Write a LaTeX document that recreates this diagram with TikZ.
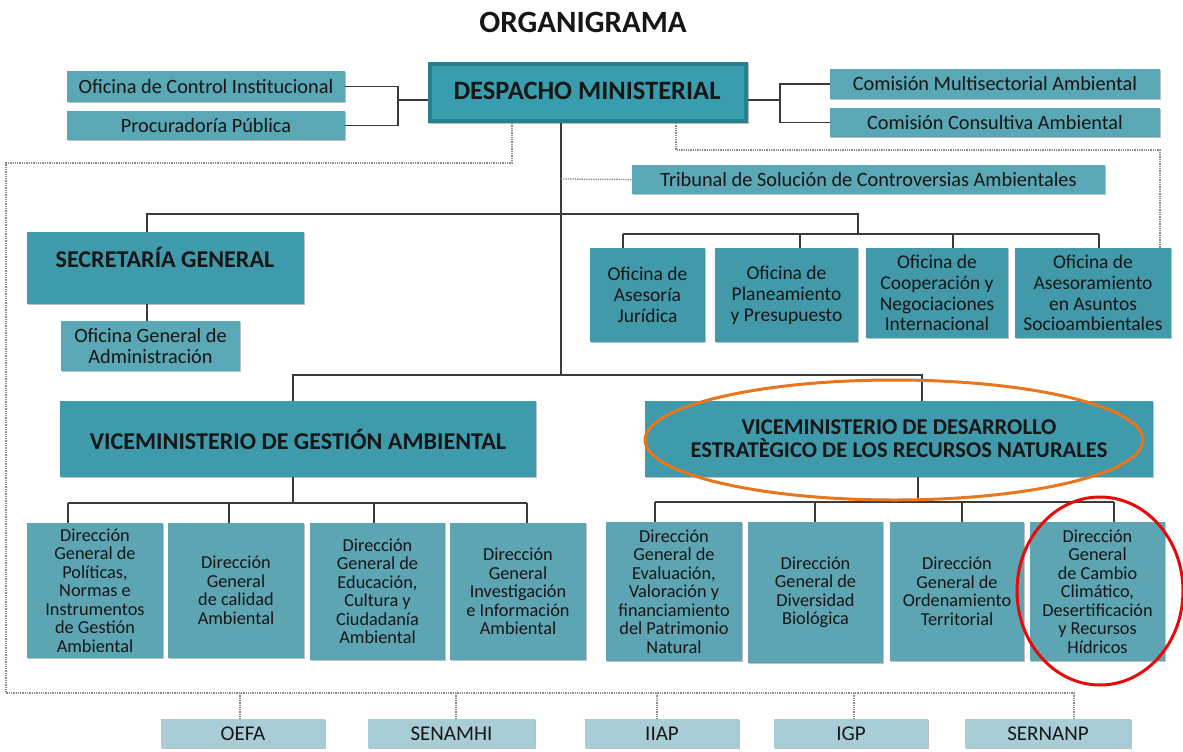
\documentclass[tikz,border=0pt]{standalone}
\usepackage{fontspec}
\setmainfont{Carlito}
\usetikzlibrary{shadows}

\definecolor{inkdark}{HTML}{161616}
\definecolor{linegray}{HTML}{3A3A3A}
\definecolor{dotgray}{HTML}{8A8A8A}
\definecolor{tealsmall}{HTML}{5AA7B5}
\definecolor{tealhead}{HTML}{3F9AAB}
\definecolor{tealoffice}{HTML}{4299AA}
\definecolor{tealdir}{HTML}{5DA5B3}
\definecolor{tealpale}{HTML}{A9CDD7}
\definecolor{despedge}{HTML}{25808F}
\definecolor{despface}{HTML}{3A9DAE}
\definecolor{markorange}{HTML}{E8761C}
\definecolor{markred}{HTML}{E60A0A}

% a box given by its corners (x1,y1)-(x2,y2), in pixel units
\newcommand{\unitbox}[7]{%
  \node[#6, minimum width={#4pt-#2pt}, minimum height={#5pt-#3pt}]
    (#1) at ({(#2+#4)/2},{(#3+#5)/2}) {#7};}

\tikzset{
  x=1pt, y=-1pt,
  base/.style={rectangle, inner sep=0pt, outer sep=0pt, align=center,
    text=inkdark, drop shadow={shadow xshift=1.2pt, shadow yshift=-1.2pt,
    opacity=0.25, fill=black}},
  smallbox/.style={base, fill=tealsmall, font=\fontsize{20.3}{21}\selectfont},
  headbox/.style={base, fill=tealhead, font=\bfseries\fontsize{24.1}{25}\selectfont},
  officebox/.style={base, fill=tealoffice, font=\fontsize{19.5}{20.8}\selectfont},
  dirbox/.style={base, fill=tealdir, font=\fontsize{18.3}{18.5}\selectfont},
  palebox/.style={base, fill=tealpale, font=\fontsize{21}{22}\selectfont},
  despbox/.style={base, fill=despedge},
  conn/.style={draw=linegray, line width=1.8pt},
  dotline/.style={draw=dotgray, line width=1.3pt, densely dotted},
  hiliteline/.style={line width=3pt},
}

\begin{document}
\begin{tikzpicture}
\useasboundingbox[fill=white] (0,0) rectangle (1183,752);

\node[font=\bfseries\fontsize{31}{32}\selectfont, text=inkdark] (title) at (583,22) {ORGANIGRAMA};

% ---- top level ----
\unitbox{despacho}{428}{62}{748}{123}{despbox}{}
\fill[despface] (432,66) rectangle (744,119);
\node[font=\bfseries\fontsize{26.5}{27}\selectfont, text=inkdark] (desptext) at (587,91) {DESPACHO MINISTERIAL};

\unitbox{oci}{67}{71}{345}{102}{smallbox}{Oficina de Control Institucional}
\unitbox{proc}{67}{111}{345}{140}{smallbox}{Procuradoría Pública}
\unitbox{cma}{830}{69}{1160}{99}{smallbox}{Comisión Multisectorial Ambiental}
\unitbox{cca}{830}{108}{1160}{137}{smallbox}{Comisión Consultiva Ambiental}
\unitbox{trib}{632}{165}{1105}{194}{smallbox}{Tribunal de Solución de Controversias Ambientales}

% ---- second level ----
\unitbox{sg}{27}{232}{304}{304}{headbox}{}
\node[font=\bfseries\fontsize{24.1}{25}\selectfont, text=inkdark] (sgtext) at (165,257) {SECRETARÍA GENERAL};
\unitbox{oga}{61}{321}{240}{371}{smallbox}{Oficina General de\\Administración}

\unitbox{oaj}{590}{248}{705}{342}{officebox}{Oficina de\\Asesoría\\Jurídica}
\unitbox{opp}{715}{248}{858}{342}{officebox}{Oficina de\\Planeamiento\\y Presupuesto}
\unitbox{ocn}{866}{248}{1008}{338}{officebox}{Oficina de\\Cooperación y\\Negociaciones\\Internacional}
\unitbox{oaa}{1015}{248}{1171}{338}{officebox}{Oficina de\\Asesoramiento\\en Asuntos\\Socioambientales}

% ---- vice-ministries ----
\unitbox{vga}{60}{401}{536}{477}{headbox}{VICEMINISTERIO DE GESTIÓN AMBIENTAL}
\unitbox{vdr}{645}{401}{1153}{477}{headbox, font=\bfseries\fontsize{22.6}{23}\selectfont}{VICEMINISTERIO DE DESARROLLO\\ESTRATÈGICO DE LOS RECURSOS NATURALES}

% ---- directorates ----
\unitbox{d1}{27}{523}{163}{658}{dirbox}{Dirección\\General de\\Políticas,\\Normas e\\Instrumentos\\de Gestión\\Ambiental}
\unitbox{d2}{168}{523}{304}{658}{dirbox}{Dirección\\General\\de calidad\\Ambiental}
\unitbox{d3}{310}{523}{445}{660}{dirbox}{Dirección\\General de\\Educación,\\Cultura y\\Ciudadanía\\Ambiental}
\unitbox{d4}{450}{523}{586}{660}{dirbox}{Dirección\\General\\Investigación\\e Información\\Ambiental}

\unitbox{d5}{606}{522}{742}{661}{dirbox}{Dirección\\General de\\Evaluación,\\Valoración y\\financiamiento\\del Patrimonio\\Natural}
\unitbox{d6}{748}{522}{883}{663}{dirbox}{Dirección\\General de\\Diversidad\\Biológica}
\unitbox{d7}{890}{522}{1024}{661}{dirbox}{Dirección\\General de\\Ordenamiento\\Territorial}
\unitbox{d8}{1030}{522}{1165}{661}{dirbox}{Dirección\\General\\de Cambio\\Climático,\\Desertificación\\y Recursos\\Hídricos}

% ---- attached agencies ----
\unitbox{oefa}{161}{719}{325}{748}{palebox}{OEFA}
\unitbox{senamhi}{368}{719}{535}{748}{palebox}{SENAMHI}
\unitbox{iiap}{585}{719}{739}{748}{palebox}{IIAP}
\unitbox{igp}{774}{719}{928}{748}{palebox}{IGP}
\unitbox{sernanp}{965}{719}{1131}{748}{palebox}{SERNANP}

% ---- solid connectors ----
\coordinate (lb) at (398,100);
\coordinate (rb) at (780,100);
\draw[conn] (oci.east) -| (lb);
\draw[conn] (proc.east) -| (lb);
\draw[conn] (lb) -- (lb -| despacho.west);
\draw[conn] (cma.west) -| (rb);
\draw[conn] (cca.west) -| (rb);
\draw[conn] (rb) -- (rb -| despacho.east);

\coordinate (trunk) at (561,375);
\draw[conn] (trunk |- despacho.south) -- (trunk);

\coordinate (sgj) at (147,214);
\coordinate (ofj) at (858,214);
\coordinate (ofd) at (858,234);
\draw[conn] (sgj |- sg.north) -- (sgj) -- (ofj) -- (ofd);
\draw[conn] (sgj |- sg.south) -- (sgj |- oga.north);

\coordinate (ob1) at (623,234);
\coordinate (ob2) at (800,234);
\coordinate (ob3) at (953,234);
\coordinate (ob4) at (1099,234);
\draw[conn] (ob1) -- (ob4);
\draw[conn] (ob1) -- (ob1 |- oaj.north);
\draw[conn] (ob2) -- (ob2 |- opp.north);
\draw[conn] (ob3) -- (ob3 |- ocn.north);
\draw[conn] (ob4) -- (ob4 |- oaa.north);

\coordinate (vl) at (293,375);
\coordinate (vr) at (922,375);
\draw[conn] (vl |- vga.north) -- (vl) -- (vr) -- (vr |- vdr.north);

\coordinate (gbar) at (293,503);
\draw[conn] (gbar |- vga.south) -- (gbar);
\coordinate (g1) at (68,503);
\coordinate (g2) at (229,503);
\coordinate (g3) at (374,503);
\coordinate (g4) at (527,503);
\draw[conn] (g1) -- (g4);
\draw[conn] (g1) -- (g1 |- d1.north);
\draw[conn] (g2) -- (g2 |- d2.north);
\draw[conn] (g3) -- (g3 |- d3.north);
\draw[conn] (g4) -- (g4 |- d4.north);

\coordinate (dbar) at (918,502);
\draw[conn] (dbar |- vdr.south) -- (dbar);
\coordinate (r1) at (655,502);
\coordinate (r2) at (815,502);
\coordinate (r3) at (962,502);
\coordinate (r4) at (1114,502);
\draw[conn] (r1) -- (r4);
\draw[conn] (r1) -- (r1 |- d5.north);
\draw[conn] (r2) -- (r2 |- d6.north);
\draw[conn] (r3) -- (r3 |- d7.north);
\draw[conn] (r4) -- (r4 |- d8.north);

% ---- dotted links ----
\coordinate (dl) at (512,163);
\coordinate (dlc) at (6,163);
\coordinate (dbc) at (6,693);
\coordinate (a1) at (240,693);
\coordinate (a2) at (456,693);
\coordinate (a3) at (657,693);
\coordinate (a4) at (854,693);
\coordinate (a5) at (1074,693);
\draw[dotline] (dl |- despacho.south) -- (dl) -- (dlc) -- (dbc) -- (a5);
\draw[dotline] (a1) -- (a1 |- oefa.north);
\draw[dotline] (a2) -- (a2 |- senamhi.north);
\draw[dotline] (a3) -- (a3 |- iiap.north);
\draw[dotline] (a4) -- (a4 |- igp.north);
\draw[dotline] (a5) -- (a5 |- sernanp.north);

\coordinate (dr) at (676,150);
\coordinate (drc) at (1160,150);
\draw[dotline] (dr |- despacho.south) -- (dr) -- (drc) -- (drc |- oaa.north);

\coordinate (tj) at (561,179);
\draw[dotline] (tj) -- (trib.west);

% ---- highlight rings ----
\draw[hiliteline, markorange] (894,440) ellipse [x radius=249pt, y radius=60pt];
\draw[hiliteline, markred] (1100,591) ellipse [x radius=83pt, y radius=94pt];
\end{tikzpicture}
\end{document}
